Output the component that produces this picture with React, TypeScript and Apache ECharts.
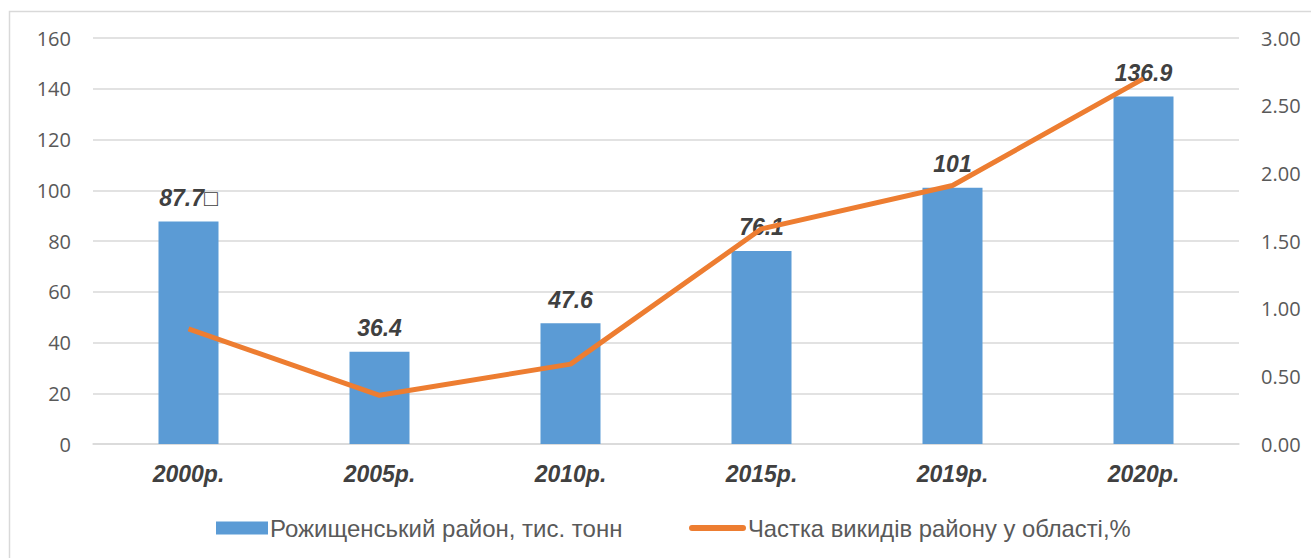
import React, { useEffect, useRef } from "react";
import * as echarts from "echarts";

const categories = ["2000р.", "2005р.", "2010р.", "2015р.", "2019р.", "2020р."];
const emissions = [87.7, 36.4, 47.6, 76.1, 101, 136.9];
const shares = [0.85, 0.36, 0.59, 1.59, 1.91, 2.7];
const barName = "Рожищенський район, тис. тонн";
const lineName = "Частка викидів району у області,%";

export default function App() {
  const ref = useRef<HTMLDivElement>(null);
  useEffect(() => {
    if (!ref.current) return;
    const chart = echarts.init(ref.current, null, { renderer: "svg" });
    const tickFont = { fontFamily: "Open Sans", fontSize: 20, color: "#595959" };
    const legendText = { fontFamily: "Liberation Sans", fontSize: 24, color: "#595959", padding: [0, 0, 0, -3] };
    chart.setOption({
      animation: false,
      backgroundColor: "#ffffff",
      graphic: [
        {
          type: "rect",
          shape: { x: 9.5, y: 11.5, width: 1310, height: 560 },
          style: { fill: "none", stroke: "#d9d9d9", lineWidth: 1.5 },
          silent: true,
        },
      ],
      grid: { left: 93, right: 72, top: 38, bottom: 114, containLabel: false },
      legend: [
        {
          left: 211,
          top: 511,
          itemWidth: 52,
          itemHeight: 13,
          textStyle: legendText,
          data: [{ name: barName, icon: "rect" }],
        },
        {
          left: 684,
          top: 511,
          itemWidth: 57,
          itemHeight: 6,
          symbolKeepAspect: false,
          textStyle: { ...legendText, fontSize: 23.8 },
          data: [
            {
              name: lineName,
              icon: "path://M3,0 L54,0 A3,3 0 0 1 54,6 L3,6 A3,3 0 0 1 3,0 Z",
              itemStyle: { color: "#ed7d31", borderWidth: 0 },
            },
          ],
        },
      ],
      xAxis: {
        type: "category",
        data: categories,
        axisLine: { lineStyle: { color: "#d9d9d9", width: 1.5 } },
        axisTick: { show: false },
        axisLabel: {
          fontFamily: "Liberation Sans",
          fontSize: 23,
          fontWeight: "bold",
          fontStyle: "italic",
          color: "#404040",
          margin: 18,
        },
      },
      yAxis: [
        {
          type: "value",
          min: 0,
          max: 160,
          interval: 20,
          axisLine: { show: false },
          axisTick: { show: false },
          splitLine: { lineStyle: { color: "#d9d9d9", width: 1.5 } },
          axisLabel: { ...tickFont, margin: 22 },
        },
        {
          type: "value",
          min: 0,
          max: 3,
          interval: 0.5,
          position: "right",
          axisLine: { show: false },
          axisTick: { show: false },
          splitLine: { show: false },
          axisLabel: { ...tickFont, margin: 22, formatter: (v: number) => v.toFixed(2) },
        },
      ],
      series: [
        {
          name: barName,
          type: "bar",
          data: emissions,
          barWidth: 60,
          itemStyle: { color: "#5b9bd5" },
          label: {
            show: true,
            position: "top",
            distance: 12,
            fontFamily: "Liberation Sans",
            fontSize: 23,
            fontWeight: "bold",
            fontStyle: "italic",
            color: "#404040",
            formatter: (p: any) => (p.dataIndex === 0 ? p.value + "□" : String(p.value)),
          },
          z: 2,
        },
        {
          name: lineName,
          type: "line",
          yAxisIndex: 1,
          data: shares,
          symbol: "none",
          lineStyle: { color: "#ed7d31", width: 5 },
          itemStyle: { color: "#ed7d31" },
          z: 3,
        },
      ],
    });
    return () => chart.dispose();
  }, []);
  return (
    <div
      ref={ref}
      style={{ position: "absolute", left: 0, top: 0, width: 1311, height: 558 }}
    />
  );
}
